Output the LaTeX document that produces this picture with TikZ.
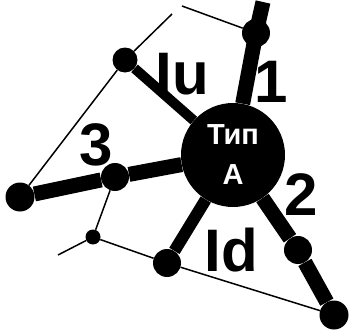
\documentclass[tikz,border=0pt]{standalone}
\usepackage{fontspec}
\setmainfont{Liberation Sans}
\usetikzlibrary{calc}
\usetikzlibrary{positioning}

\tikzset{
  dot/.style={circle, fill=black, inner sep=0pt, minimum size=#1},
  dot/.default=28pt,
  hub/.style={circle, fill=black, inner sep=0pt, minimum size=104pt, text=white, align=center,
    font=\fontsize{29}{40}\selectfont\bfseries},
  lbl/.style={inner sep=0pt, font=\fontsize{60}{60}\selectfont\bfseries},
  thin/.style={black, line width=1.5pt},
}

\begin{document}
\begin{tikzpicture}[x=1pt, y=-1pt, line join=round]
          \useasboundingbox (0,0) rectangle (349,332);
          % centre
          \node[hub] (hub) at (233,155) {Тип\\А};
          % dots
          \node[dot] (d1) at (256,33) {};
          \node[dot=25pt] (du) at (125,60) {};
          \node[dot] (m3) at (115,177) {};
          \node[dot=29pt] (e3) at (20,197) {};
          \node[dot] (dd) at (167,263) {};
          \node[dot] (m2) at (298,250) {};
          \node[dot=29pt] (e2) at (334,315) {};
          \node[dot=15pt] (s) at (93,237) {};
          \coordinate (t1) at (263,2);
          \coordinate (a) at (182,6);
          \coordinate (b) at (172,14);
          \coordinate (c) at (58,255);
          % branches
          \draw[line width=15pt] (hub) -- (d1.center) -- (t1);
          \draw[line width=10pt] (hub) -- (du);
          \draw[line width=15pt] (hub) -- (m3) -- (e3);
          \draw[line width=12pt] (hub) -- (dd);
          \draw[line width=15pt] (hub) -- (m2) -- (e2);
          % thin lines
          \draw[thin] (a) -- (d1);
          \draw[thin] (b) -- (du) -- (e3);
          \draw[thin] (m3) -- (s) -- (c);
          \draw[thin] (s) -- (dd) -- (e2);
          % labels
          \node[lbl] (l1) at (271,82) {1};
          \node[lbl] (lu) at (182,74) {Iu};
          \node[lbl] (l3) at (96,145) {3};
          \node[lbl] (ld) at (231,250) {Id};
          \node[lbl] (l2) at (301,195) {2};
        \end{tikzpicture}
\end{document}
